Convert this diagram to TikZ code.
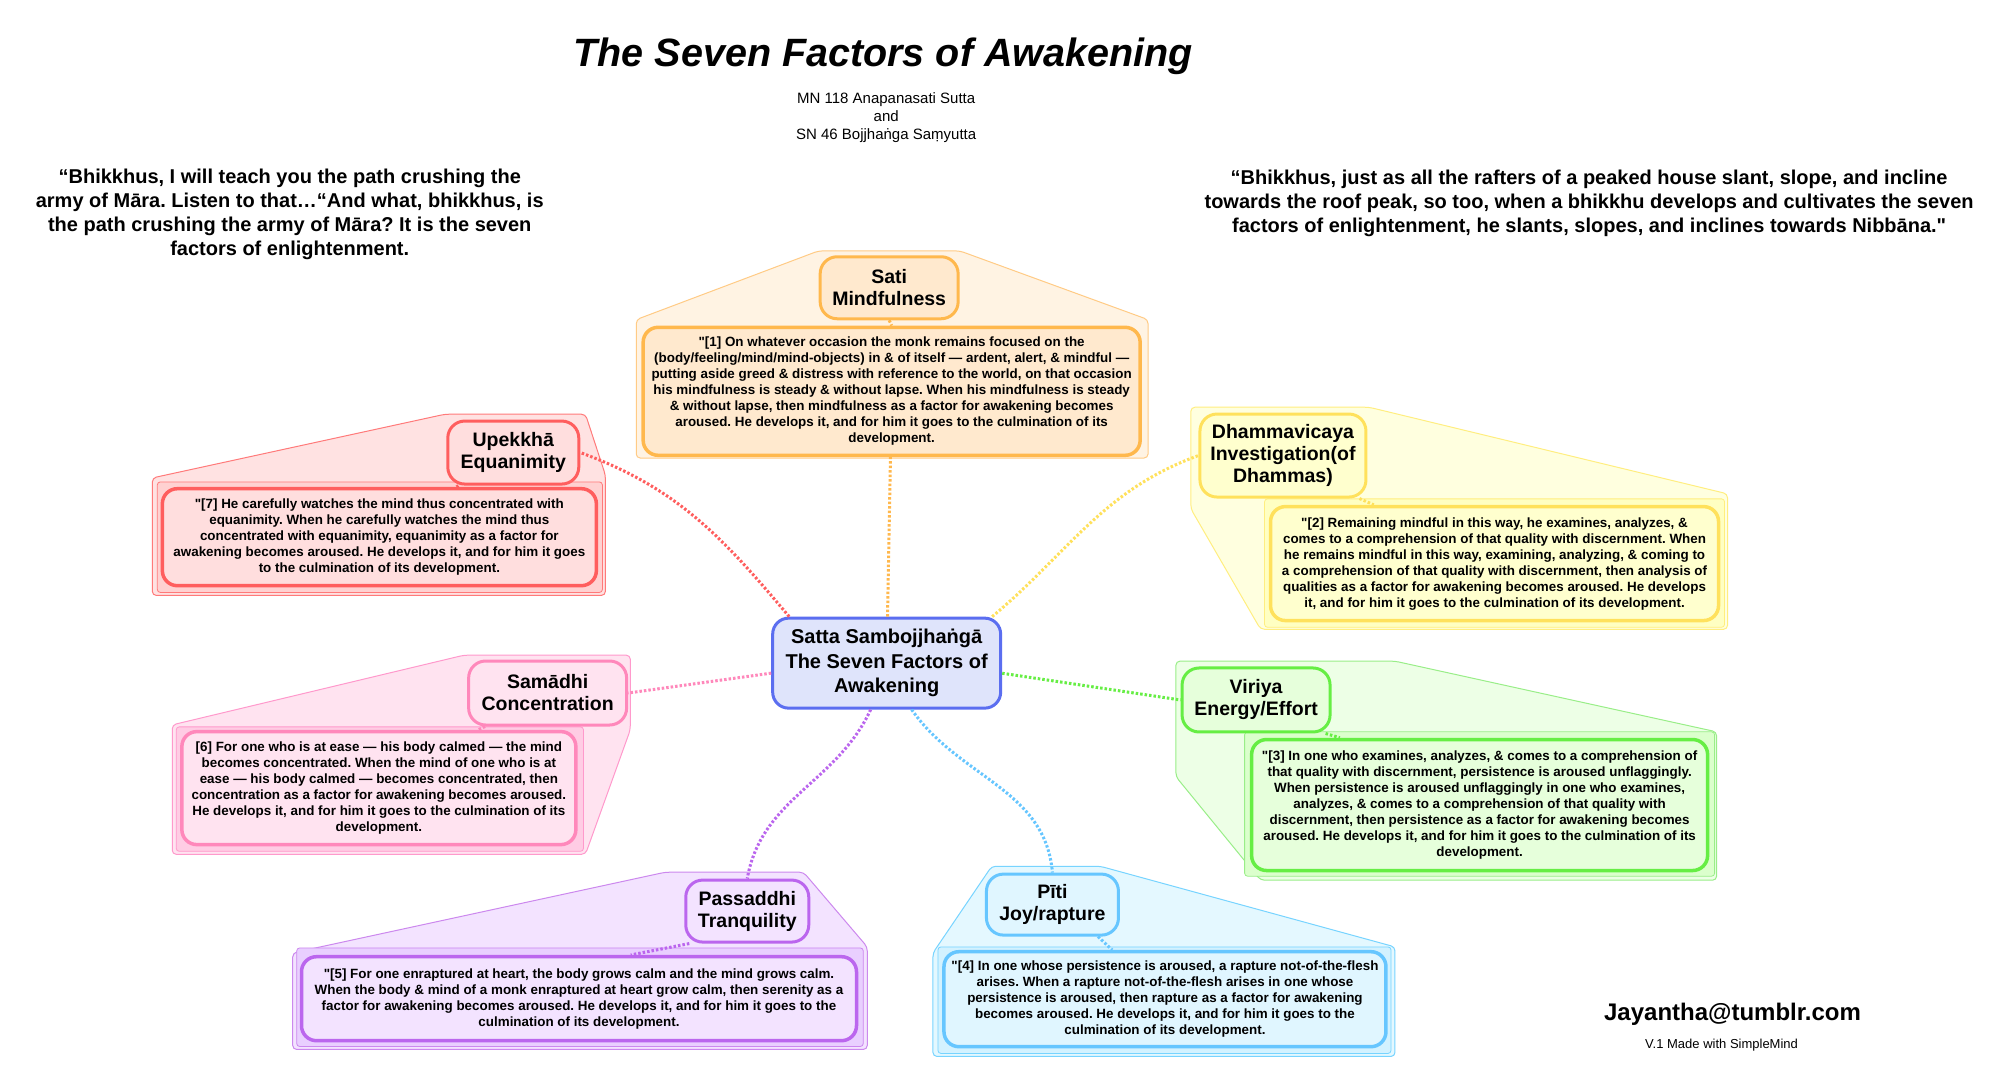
\documentclass[tikz,border=0pt]{standalone}
\usepackage{fontspec}
\newfontfamily\liber{Liberation Sans}
\AtBeginDocument{\liber}
\usetikzlibrary{calc}
\frenchspacing
\definecolor{hubline}{HTML}{5B6EF0}
\definecolor{hubfill}{HTML}{DFE4FB}
\definecolor{c1line}{HTML}{FFB84D}\definecolor{c1fill}{HTML}{FFE9CE}\definecolor{c1back}{HTML}{FFF3E3}\definecolor{c1backline}{HTML}{FFCB85}\definecolor{c1rect}{HTML}{FFF3E3}
\definecolor{c2line}{HTML}{FFE15C}\definecolor{c2fill}{HTML}{FFFFCE}\definecolor{c2back}{HTML}{FFFFDF}\definecolor{c2backline}{HTML}{FFEE80}\definecolor{c2rect}{HTML}{FFFFC2}
\definecolor{c3line}{HTML}{66EE44}\definecolor{c3fill}{HTML}{E6FFDB}\definecolor{c3back}{HTML}{EDFFE6}\definecolor{c3backline}{HTML}{99EE88}\definecolor{c3rect}{HTML}{DBFFCC}
\definecolor{c4line}{HTML}{66C6FF}\definecolor{c4fill}{HTML}{E0F6FF}\definecolor{c4back}{HTML}{E4F8FF}\definecolor{c4backline}{HTML}{77D4FF}\definecolor{c4rect}{HTML}{D3F2FF}
\definecolor{c5line}{HTML}{BB66EE}\definecolor{c5fill}{HTML}{F3E3FF}\definecolor{c5back}{HTML}{F3E3FF}\definecolor{c5backline}{HTML}{CC88EE}\definecolor{c5rect}{HTML}{E9CFFF}
\definecolor{c6line}{HTML}{FF88BB}\definecolor{c6fill}{HTML}{FFE3F0}\definecolor{c6back}{HTML}{FFE3F0}\definecolor{c6backline}{HTML}{FF99CC}\definecolor{c6rect}{HTML}{FFCCE4}
\definecolor{c7line}{HTML}{FF5E5E}\definecolor{c7fill}{HTML}{FFDEDE}\definecolor{c7back}{HTML}{FFE2E2}\definecolor{c7backline}{HTML}{FF7A7A}\definecolor{c7rect}{HTML}{FFD1D1}

\begin{document}
\begin{tikzpicture}[x=0.9957pt,y=-0.9957pt,
	hub/.style={draw=hubline,fill=hubfill,line width=3pt,rounded corners=16pt,align=center,inner sep=0pt,font=\fontsize{20}{24.4}\selectfont\bfseries},
	topic/.style={draw=#1line,fill=#1fill,line width=3pt,rounded corners=17pt,align=center,inner sep=0pt,font=\fontsize{19.5}{22}\selectfont\bfseries},
	textbox/.style={draw=#1line,fill=#1fill,line width=3.5pt,rounded corners=15pt,align=center,inner sep=0pt,font=\fontsize{13.4}{16}\selectfont\bfseries},
	back/.style={draw=#1backline,fill=#1back,line width=1pt,rounded corners=4pt},
	inner/.style={draw=#1backline,fill=#1rect,line width=0.8pt,rounded corners=3pt},
	link/.style={draw=#1line,line width=3pt,dash pattern=on 2.5pt off 2pt},
	quote/.style={align=center,font=\fontsize{20}{24}\selectfont\bfseries}]
	\fill[white] (0pt,0pt) rectangle (2005pt,-1087pt);
	\useasboundingbox (0pt,0pt) rectangle (2005pt,-1087pt);

	\draw[back=c1] (639,321) -- (822,252) -- (964,252) -- (1153,321) -- (1153,460) -- (639,460) -- cycle;
	\draw[back=c2] (1196,409) -- (1375,409) -- (1735,496) -- (1735,632) -- (1266,632) -- (1196,511) -- cycle;
	\draw[inner=c2] (1270,501) rectangle (1732,630);
	\draw[back=c3] (1181,664) -- (1401,664) -- (1724,735) -- (1724,884) -- (1266,884) -- (1181,780) -- cycle;
	\draw[inner=c3] (1250,735) rectangle (1722,880);
	\draw[back=c4] (937,957) -- (996,870) -- (1105,870) -- (1401,951) -- (1401,1061) -- (937,1061) -- cycle;
	\draw[inner=c4] (942,951) rectangle (1397,1058);
	\draw[back=c5] (294,957) -- (668,876) -- (807,876) -- (871,951) -- (871,1054) -- (294,1054) -- cycle;
	\draw[inner=c5] (298,952) rectangle (867,1051);
	\draw[back=c6] (173,728) -- (466,658) -- (633,658) -- (633,733) -- (588,858) -- (173,858) -- cycle;
	\draw[inner=c6] (177,730) rectangle (586,855);
	\draw[back=c7] (153,480) -- (447,416) -- (588,416) -- (608,477) -- (608,598) -- (153,598) -- cycle;
	\draw[inner=c7] (158,484) rectangle (605,595);

	\node[font=\fontsize{39.5}{48}\selectfont\bfseries\itshape] (title) at (887,57) {The Seven Factors of Awakening};
	\node[align=center,font=\fontsize{15}{18}\selectfont] (src) at (890,118) {MN 118 Anapanasati Sutta\\and\\SN 46 Bojjhaṅga Saṃyutta};
	\node[quote] (q1) at (291,215) {“Bhikkhus, I will teach you the path crushing the\\army of Māra. Listen to that…“And what, bhikkhus, is\\the path crushing the army of Māra? It is the seven\\factors of enlightenment.};
	\node[quote] (q2) at (1596,204) {“Bhikkhus, just as all the rafters of a peaked house slant, slope, and incline\\towards the roof peak, so too, when a bhikkhu develops and cultivates the seven\\factors of enlightenment, he slants, slopes, and inclines towards Nibbāna."};

	\node[hub,minimum width=228pt,minimum height=90pt] (s) at (890.5,666) {Satta Sambojjhaṅgā\\The Seven Factors of\\Awakening};

	\node[topic=c1,minimum width=138pt,minimum height=62pt] (t1) at (893,289) {Sati\\Mindfulness};
	\node[topic=c2,minimum width=166pt,minimum height=83pt] (t2) at (1288.5,457.5) {Dhammavicaya\\Investigation(of\\Dhammas)};
	\node[topic=c3,minimum width=148pt,minimum height=64pt] (t3) at (1261.5,703) {Viriya\\Energy/Effort};
	\node[topic=c4,minimum width=132pt,minimum height=61pt] (t4) at (1057,908.5) {Pīti\\Joy/rapture};
	\node[topic=c5,minimum width=123pt,minimum height=62pt] (t5) at (750.5,915) {Passaddhi\\Tranquility};
	\node[topic=c6,minimum width=158pt,minimum height=64pt] (t6) at (550,696) {Samādhi\\Concentration};
	\node[topic=c7,minimum width=131pt,minimum height=63pt] (t7) at (515.5,454.5) {Upekkhā\\Equanimity};

	\node[textbox=c1,minimum width=497pt,minimum height=128pt] (b1) at (895.5,393) {"[1] On whatever occasion the monk remains focused on the\\(body/feeling/mind/mind-objects) in \& of itself — ardent, alert, \& mindful —\\putting aside greed \& distress with reference to the world, on that occasion\\his mindfulness is steady \& without lapse. When his mindfulness is steady\\\& without lapse, then mindfulness as a factor for awakening becomes\\aroused. He develops it, and for him it goes to the culmination of its\\development.};
	\node[textbox=c2,minimum width=448pt,minimum height=114pt] (b2) at (1501,566) {"[2] Remaining mindful in this way, he examines, analyzes, \&\\comes to a comprehension of that quality with discernment. When\\he remains mindful in this way, examining, analyzing, \& coming to\\a comprehension of that quality with discernment, then analysis of\\qualities as a factor for awakening becomes aroused. He develops\\it, and for him it goes to the culmination of its development.};
	\node[textbox=c3,minimum width=456pt,minimum height=131pt] (b3) at (1486,808.5) {"[3] In one who examines, analyzes, \& comes to a comprehension of\\that quality with discernment, persistence is aroused unflaggingly.\\When persistence is aroused unflaggingly in one who examines,\\analyzes, \& comes to a comprehension of that quality with\\discernment, then persistence as a factor for awakening becomes\\aroused. He develops it, and for him it goes to the culmination of its\\development.};
	\node[textbox=c4,minimum width=442pt,minimum height=95pt] (b4) at (1170,1003.5) {"[4] In one whose persistence is aroused, a rapture not-of-the-flesh\\arises. When a rapture not-of-the-flesh arises in one whose\\persistence is aroused, then rapture as a factor for awakening\\becomes aroused. He develops it, and for him it goes to the\\culmination of its development.};
	\node[textbox=c5,minimum width=555pt,minimum height=84pt] (b5) at (581.5,1003) {"[5] For one enraptured at heart, the body grows calm and the mind grows calm.\\When the body \& mind of a monk enraptured at heart grow calm, then serenity as a\\factor for awakening becomes aroused. He develops it, and for him it goes to the\\culmination of its development.};
	\node[textbox=c6,minimum width=394pt,minimum height=113pt] (b6) at (380.5,791.5) {[6] For one who is at ease — his body calmed — the mind\\becomes concentrated. When the mind of one who is at\\ease — his body calmed — becomes concentrated, then\\concentration as a factor for awakening becomes aroused.\\He develops it, and for him it goes to the culmination of its\\development.};
	\node[textbox=c7,minimum width=434pt,minimum height=97pt] (b7) at (381,539.5) {"[7] He carefully watches the mind thus concentrated with\\equanimity. When he carefully watches the mind thus\\concentrated with equanimity, equanimity as a factor for\\awakening becomes aroused. He develops it, and for him it goes\\to the culmination of its development.};

	\draw[link=c1] (s) -- (b1);
	\draw[link=c2] ([xshift=-10pt]s.north east) to[out=40,in=200] (t2.west);
	\draw[link=c3] (s.-5) -- (t3.west);
	\draw[link=c4] ([xshift=25pt]s.south) to[out=-55,in=95] (t4.north);
	\draw[link=c5] ([xshift=-16pt]s.south) to[out=-115,in=80] (t5.north);
	\draw[link=c6] ([yshift=-10pt]s.west) -- (t6.east);
	\draw[link=c7] ([xshift=18pt]s.north west) to[out=130,in=-20] (t7.east);

	\draw[link=c1] (t1.south) -- (b1.north);
	\draw[link=c2] ([xshift=-8pt]t2.south east) -- ([xshift=105pt]b2.north west);
	\draw[link=c3] ([xshift=-6pt]t3.south east) -- ([xshift=90pt]b3.north west);
	\draw[link=c4] ([xshift=-22pt]t4.south east) -- ([xshift=170pt]b4.north west);
	\draw[link=c5] ([xshift=5pt]t5.south west) -- ([xshift=331pt]b5.north west);
	\draw[link=c6] ([xshift=18pt]t6.south west) -- ([xshift=298pt]b6.north west);
	\draw[link=c7] ([xshift=12pt]t7.south west) -- ([xshift=296pt]b7.north west);

	\node[font=\fontsize{24}{28}\selectfont\bfseries] (mail) at (1740,1019) {Jayantha@tumblr.com};
	\node[font=\fontsize{13}{15}\selectfont] (made) at (1729,1050) {V.1 Made with SimpleMind};
\end{tikzpicture}
\end{document}
